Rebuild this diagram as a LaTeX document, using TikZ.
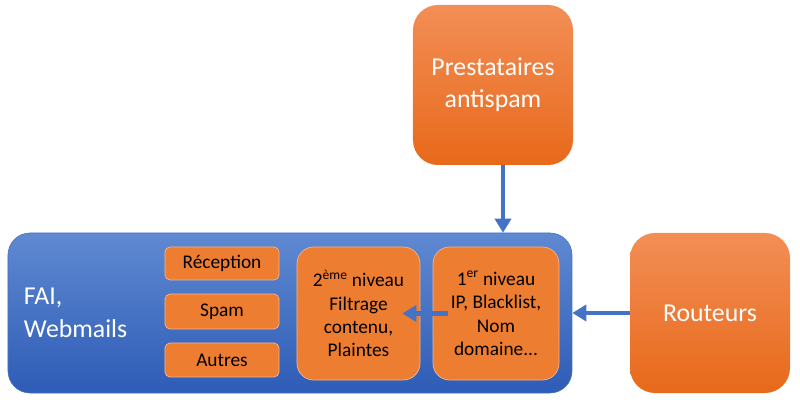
\documentclass[tikz,border=0pt]{standalone}
\usepackage{fontspec}
\setmainfont{Carlito}
\usetikzlibrary{arrows.meta}
\definecolor{bleuH}{HTML}{5F89D1}
\definecolor{bleuB}{HTML}{2E5CB6}
\definecolor{bleuF}{HTML}{4472C4}
\definecolor{orangeH}{HTML}{F28E56}
\definecolor{orangeB}{HTML}{E8691A}
\definecolor{orangeC}{HTML}{ED7D31}
\definecolor{orangeL}{HTML}{F5B58C}

\begin{document}
\begin{tikzpicture}[x=0.03cm, y=-0.03cm,
  grand/.style={rounded corners=0.75cm, top color=orangeH, bottom color=orangeB, text=white, align=center,
    font=\fontsize{22}{27}\selectfont, minimum width=4.8cm, minimum height=4.8cm, inner sep=0},
  niveau/.style={draw=orangeL, line width=0.6pt, fill=orangeC, rounded corners=0.5cm, align=center,
    font=\fontsize{16.5}{20}\selectfont, minimum height=3.99cm, inner sep=0},
  petit/.style={draw=orangeL, line width=0.6pt, fill=orangeC, rounded corners=0.15cm, minimum width=3.42cm,
    font=\fontsize{16.5}{20}\selectfont, inner sep=0},
  fleche/.style={draw=bleuF, line width=4.25pt, -{Triangle[length=0.42cm, width=0.48cm]}}]
\useasboundingbox (0,0) rectangle (800,402);
% cadre FAI
\node[rounded corners=0.66cm, top color=bleuH, bottom color=bleuB, draw=bleuF, line width=0.5pt,
  minimum width=16.92cm, minimum height=4.8cm, inner xsep=0.48cm, inner ysep=0, text width=15.96cm,
  align=left, text=white, font=\fontsize{22}{28}\selectfont] (fai) at (290,313) {FAI,\\Webmails};
\node[petit, minimum height=0.99cm] (reception) at (222,263.5) {Réception};
\node[petit, minimum height=1.05cm] (spam) at (222,311.5) {Spam};
\node[petit, minimum height=1.02cm] (autres) at (222,360) {Autres};
\node[niveau, minimum width=3.69cm] (niv2) at (358.5,313.5) {2\textsuperscript{ème} niveau\\Filtrage\\contenu,\\Plaintes};
\node[niveau, minimum width=3.78cm] (niv1) at (496,313.5) {1\textsuperscript{er} niveau\\IP, Blacklist,\\Nom\\domaine...};
% boites externes
\node[grand] (presta) at (493,85) {Prestataires\\antispam};
\node[grand] (routeurs) at (710,313) {Routeurs};
% fleches
\draw[fleche] ([xshift=0.3cm]presta.south) -- ([xshift=0.3cm]presta.south |- fai.north);
\draw[fleche] (routeurs.west) -- (fai.east);
\draw[fleche] ([xshift=0.45cm]niv1.west) -- ([xshift=-0.54cm]niv2.east);
\end{tikzpicture}
\end{document}
